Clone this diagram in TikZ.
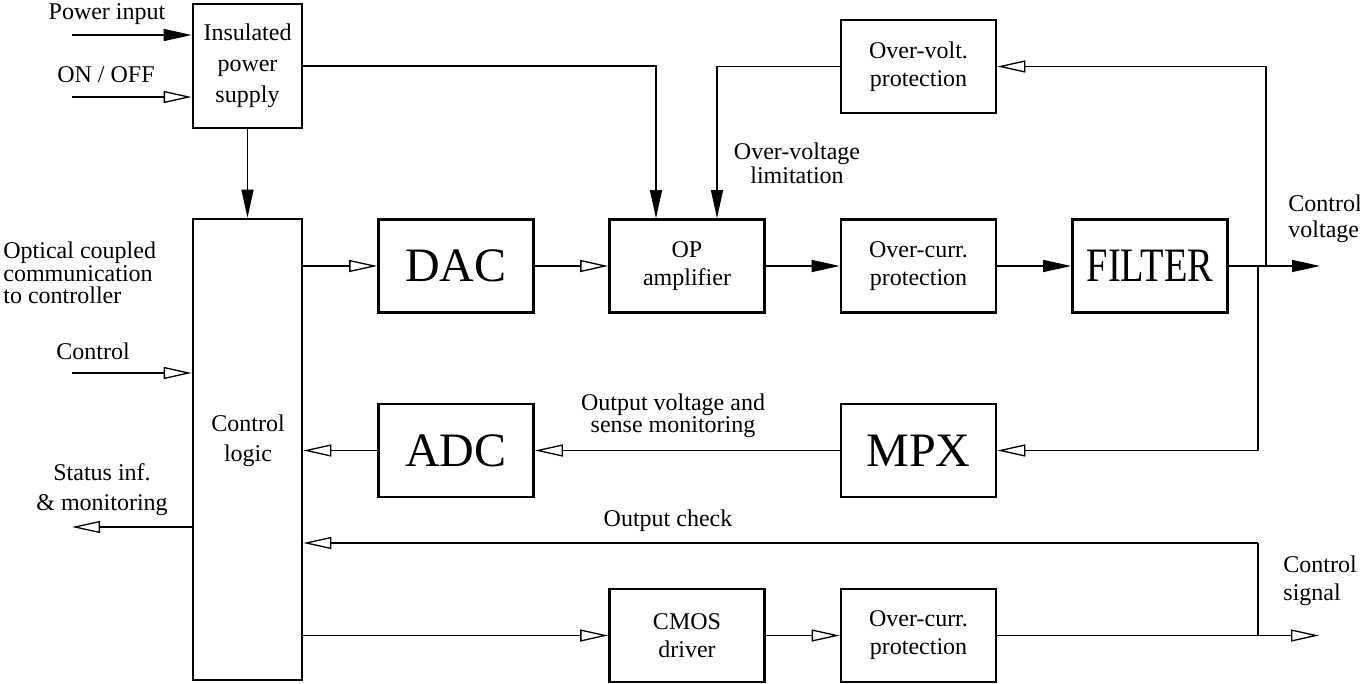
\documentclass[tikz,border=0pt]{standalone}
\usepackage{fontspec}
\setmainfont{Liberation Serif}
\usetikzlibrary{arrows.meta}

\begin{document}
\begin{tikzpicture}[
  x=0.5pt, y=-0.5pt,
  blk/.style={draw, line width=1.3pt, align=center, minimum width=77.5pt, minimum height=46.5pt, inner sep=1pt, font=\fontsize{12}{14}\selectfont},
  big/.style={blk, font=\fontsize{24}{24}\selectfont},
  lbl/.style={align=center, inner sep=0pt, font=\fontsize{12}{14}\selectfont},
  farrow/.style={-{Triangle[length=14pt, width=6pt]}, line width=0.65pt},
  oarrow/.style={-{Triangle[open, length=14pt, width=6pt]}, line width=0.65pt},
  wire/.style={line width=0.65pt}
]
\useasboundingbox (0,0) rectangle (1360,684);

\node[blk, minimum width=54.5pt, minimum height=62pt, font=\fontsize{12}{15.5}\selectfont] (psu) at (247.5,66) {Insulated\\power\\supply};
\node[blk, minimum width=54.5pt, minimum height=230.5pt] (cl) at (247.5,449.5) {};
\node[big] (dac) at (456,266) {DAC};
\node[big] (adc) at (456,450.5) {ADC};
\node[blk] (op) at (687,266) {OP\\amplifier};
\node[blk] (oc) at (918.5,266) {Over-curr.\\protection};
\node[big] (flt) at (1150,266) {\scalebox{0.8}[1]{FILTER}};
\node[blk] (ov) at (918.5,66.5) {Over-volt.\\protection};
\node[big] (mpx) at (918.5,450.5) {MPX};
\node[blk] (cmos) at (687,635.5) {CMOS\\driver};
\node[blk] (oc2) at (918.5,635.5) {Over-curr.\\protection};

\node[lbl, font=\fontsize{12}{15}\selectfont] (cltxt) at (248,441) {Control\\logic};
\node[lbl] (tpin) at (107,14) {Power input};
\node[lbl] (tonoff) at (106,75) {ON / OFF};
\node[lbl, anchor=west, align=left, font=\fontsize{12}{11.25}\selectfont] (topt) at (3,273) {Optical coupled\\communication\\to controller};
\node[lbl] (tctl) at (93,351) {Control};
\node[lbl, font=\fontsize{12}{15}\selectfont] (tstat) at (102,490) {Status inf.\\\& monitoring};
\node[lbl, font=\fontsize{12}{12}\selectfont] (tlim) at (797,163) {Over-voltage\\limitation};
\node[lbl, anchor=west, align=left, font=\fontsize{12}{13}\selectfont] (tvout) at (1288,219) {Control\\voltage};
\node[lbl, font=\fontsize{12}{11}\selectfont] (tmon) at (673,416) {Output voltage and\\sense monitoring};
\node[lbl] (tchk) at (668,521) {Output check};
\node[lbl, anchor=west, align=left, font=\fontsize{12}{14}\selectfont] (tsout) at (1283,581) {Control\\signal};

\coordinate (pin) at (72,35);
\coordinate (onoff) at (72,97);
\coordinate (ctl) at (72,373);
\coordinate (stat) at (72,527);
\coordinate (tapv) at (1266,266);
\coordinate (tapm) at (1258,266);
\coordinate (vout) at (1320,266);
\coordinate (chk) at (1258,543);
\coordinate (tapc) at (1258,635.5);
\coordinate (sout) at (1319,635.5);

\draw[farrow] (pin) -- (pin -| psu.west);
\draw[oarrow] (onoff) -- (onoff -| psu.west);
\draw[farrow] (psu.south) -- (cl.north);
\draw[farrow] (psu.east) -| ([xshift=-15.5pt]op.north);
\draw[farrow] (ov.west) -| ([xshift=15pt]op.north);
\draw[oarrow] (ctl) -- (ctl -| cl.west);
\draw[oarrow] (stat -| cl.west) -- (stat);

\draw[oarrow] (dac.west -| cl.east) -- (dac.west);
\draw[oarrow] (dac.east) -- (op.west);
\draw[farrow] (op.east) -- (oc.west);
\draw[farrow] (oc.east) -- (flt.west);
\draw[farrow] (flt.east) -- (vout);
\draw[oarrow] (tapv) |- (ov.east);
\draw[oarrow] (tapm) |- (mpx.east);
\draw[oarrow] (mpx.west) -- (adc.east);
\draw[oarrow] (adc.west) -- (adc.west -| cl.east);

\draw[wire] (tapc) -- (chk);
\draw[oarrow] (chk) -- (chk -| cl.east);
\draw[oarrow] (cmos.west -| cl.east) -- (cmos.west);
\draw[oarrow] (cmos.east) -- (oc2.west);
\draw[oarrow] (oc2.east) -- (sout);
\end{tikzpicture}
\end{document}
